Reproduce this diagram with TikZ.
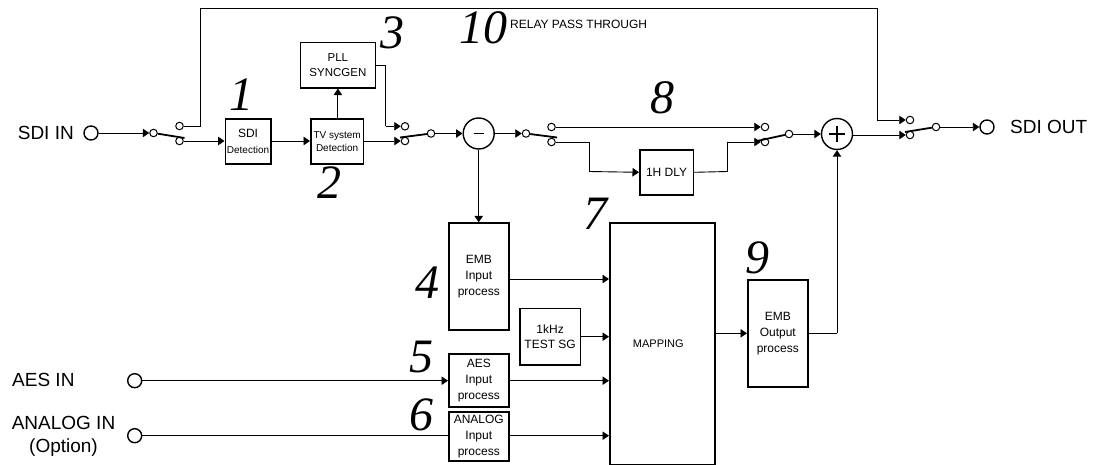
\documentclass[tikz,border=0pt]{standalone}
\usepackage{fontspec}
\setmainfont{Liberation Sans}
\newfontfamily\numfont{Liberation Serif}
\usetikzlibrary{arrows.meta,calc}
\tikzset{
  wire/.style={draw=black,line width=0.9pt},
  arr/.style={wire,-{Triangle[length=6.5pt,width=8.5pt]}},
  blockbox/.style={draw=black,line width=1.6pt,fill=white,inner sep=0pt,align=center,anchor=north west,font=\fontsize{12}{16}\selectfont},
  pin/.style={circle,draw=black,line width=1pt,fill=white,minimum size=7.5pt,inner sep=0pt},
  port/.style={circle,draw=black,line width=1.4pt,fill=white,minimum size=14pt,inner sep=0pt},
  summer/.style={circle,draw=black,line width=1.4pt,fill=white,minimum size=31pt,inner sep=0pt},
  lever/.style={draw=black,line width=1.8pt},
  lab/.style={inner sep=0pt,font=\fontsize{19}{24}\selectfont,align=center},
  num/.style={inner sep=0pt,font=\numfont\itshape\fontsize{48}{48}\selectfont},
}
\begin{document}
\begin{tikzpicture}[x=1pt,y=-1pt]
\useasboundingbox (0,0) rectangle (1093,465);
% blocks
\node[blockbox,minimum width=45.5pt,minimum height=45.5pt] (sdi) at (224.5,118) {SDI\\[0pt]{\fontsize{10}{15}\selectfont Detection}};
\node[blockbox,minimum width=52.7pt,minimum height=45.5pt,font=\fontsize{10}{13}\selectfont] (tv) at (310,118) {TV system\\Detection};
\node[blockbox,minimum width=75.2pt,minimum height=45.3pt,font=\fontsize{11.5}{15}\selectfont] (pll) at (299.5,41.7) {PLL\\SYNCGEN};
\node[blockbox,minimum width=53.6pt,minimum height=45pt] (dly) at (639,149) {1H DLY};
\node[blockbox,minimum width=60pt,minimum height=107pt] (emb) at (448,222.3) {EMB\\Input\\process};
\node[blockbox,minimum width=60.6pt,minimum height=56.6pt,font=\fontsize{12}{15.5}\selectfont] (sg) at (519,307.7) {1kHz\\TEST SG};
\node[blockbox,minimum width=60pt,minimum height=53pt] (aes) at (448,353) {AES\\Input\\process};
\node[blockbox,minimum width=60pt,minimum height=49pt] (ana) at (448,411) {ANALOG\\Input\\process};
\node[blockbox,minimum width=105pt,minimum height=242pt,font=\fontsize{11}{12}\selectfont] (map) at (609,222) {\hspace*{-8pt}MAPPING};
\node[blockbox,minimum width=60pt,minimum height=107pt] (out) at (747,279) {EMB\\Output\\process};
% summers
\node[summer] (minus) at (478.7,133.5) {};
\draw[line width=1.2pt] ($(minus)+(-5,0)$) -- ($(minus)+(5,0)$);
\node[summer] (plus) at (837,134) {};
\draw[line width=1.2pt] ($(plus)+(-8,0)$) -- ($(plus)+(8,0)$) ($(plus)+(0,-8)$) -- ($(plus)+(0,8)$);
% ports
\node[port] (sdiin) at (91,133) {};
\node[port] (sdiout) at (987,127) {};
\node[port] (aesin) at (134.7,380.7) {};
\node[port] (anain) at (134.7,435.7) {};
% switch 1
\node[pin] (s1i) at (153.5,133) {};
\node[pin] (s1a) at (179.5,126) {};
\node[pin] (s1b) at (179.5,141) {};
\coordinate (s1t) at (184.5,138);
% switch 2
\node[pin] (s2a) at (405,126.3) {};
\node[pin] (s2b) at (405,141) {};
\node[pin] (s2o) at (431,133.5) {};
\coordinate (s2t) at (400,137.5);
% switch 3
\node[pin] (s3i) at (526,133.5) {};
\node[pin] (s3a) at (551.5,127) {};
\node[pin] (s3b) at (551.5,142) {};
\coordinate (s3t) at (557,137.5);
% switch 4
\node[pin] (s4a) at (765,127) {};
\node[pin] (s4b) at (765,142) {};
\node[pin] (s4o) at (789,134) {};
\coordinate (s4t) at (757,141);
% switch 5
\node[pin] (s5a) at (910,120) {};
\node[pin] (s5b) at (910,135) {};
\node[pin] (s5o) at (936,127) {};
\coordinate (s5t) at (905,132);
% levers
\draw[lever] (s1i) -- (s1t);
\draw[lever] (s2o) -- (s2t);
\draw[lever] (s3i) -- (s3t);
\draw[lever] (s4o) -- (s4t);
\draw[lever] (s5o) -- (s5t);
% wires
\draw[arr] (sdiin) -- (s1i);
\draw[wire] (s1a) -- (200,126) -- (200,8.5) -- (877,8.5) -- (877,120);
\draw[arr] (877,120) -- (s5a);
\draw[arr] (s1b) -- (sdi.west |- s1b);
\draw[arr] (sdi.east |- s1b) -- (tv.west |- s1b);
\draw[arr] (tv.north -| pll.south) -- (pll.south);
\draw[arr] (tv.east |- s2b) -- (s2b);
\draw[wire] (pll.east |- 0,65) -- (385.7,65) -- (385.7,126.3);
\draw[arr] (385.7,126.3) -- (s2a);
\draw[arr] (s2o) -- (minus);
\draw[arr] (minus) -- (emb.north -| minus);
\draw[arr] (minus) -- (s3i);
\draw[arr] (s3a) -- (s4a);
\draw[wire] (s3b) -- (589,142) -- (589,171.5);
\draw[arr] (589,171.5) -- (dly.west);
\draw[wire] (dly.east) -- (727.5,171.5) -- (727.5,142);
\draw[arr] (727.5,142) -- (s4b);
\draw[arr] (s4o) -- (plus);
\draw[arr] (plus.east |- s5b) -- (s5b);
\draw[arr] (s5o) -- (sdiout);
\draw[arr] (aesin) -- (aes.west |- aesin);
\draw[wire] (anain) -- (ana.west |- anain);
\draw[arr] (emb.east |- 0,279) -- (map.west |- 0,279);
\draw[arr] (sg.east |- 0,336.7) -- (map.west |- 0,336.7);
\draw[arr] (aes.east |- aesin) -- (map.west |- aesin);
\draw[arr] (ana.east |- anain) -- (map.west |- anain);
\draw[arr] (map.east |- out.east) -- (out.west);
\draw[wire] (out.east) -- (plus |- out.east);
\draw[arr] (plus |- out.east) -- (plus);
% labels
\node[lab,anchor=east] (tsdiin) at (74,133) {SDI IN};
\node[lab,anchor=west] (tsdiout) at (1010,127) {SDI OUT};
\node[lab,anchor=west] (taes) at (12,380) {AES IN};
\node[lab,anchor=center] (tana) at (63.5,423) {ANALOG IN};
\node[lab,anchor=center] (topt) at (63.5,448) {(Option)};
\node[inner sep=0pt,anchor=west,font=\fontsize{12}{12}\selectfont] (trelay) at (510,24) {RELAY PASS THROUGH};
% numbers
\node[num] (n1) at (241,95) {1};
\node[num] (n2) at (329,183) {2};
\node[num] (n3) at (392,33) {3};
\node[num] (n4) at (427,283) {4};
\node[num] (n5) at (421,357) {5};
\node[num] (n6) at (421,415) {6};
\node[num] (n7) at (595,214) {7};
\node[num] (n8) at (662,98) {8};
\node[num] (n9) at (757,258) {9};
\node[num] (n10) at (483,28) {10};
\end{tikzpicture}
\end{document}
